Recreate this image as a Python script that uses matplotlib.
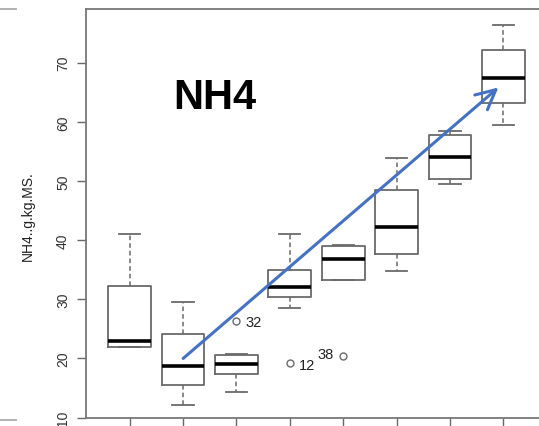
import matplotlib
matplotlib.use("Agg")
import matplotlib.pyplot as plt
from matplotlib.lines import Line2D

plt.rcParams['font.family'] = ['Liberation Sans', 'DejaVu Sans']

# five-number summaries per group (read as whisker low, q1, median, q3, whisker high)
groups = [1, 2, 3, 4, 5, 6, 7, 8]
whislo = [21.9, 12.2, 14.4, 28.6, 33.2, 34.8, 49.5, 59.5]
q1 = [22.0, 15.6, 17.3, 30.4, 33.2, 37.7, 50.3, 63.1]
med = [22.9, 18.8, 19.1, 32.1, 36.8, 42.3, 54.1, 67.4]
q3 = [32.2, 24.2, 20.6, 34.9, 39.0, 48.4, 57.7, 72.2]
whishi = [41.0, 29.5, 20.7, 41.0, 39.1, 53.9, 58.5, 76.4]

# outliers: group, value, label
out_group = [3, 4, 5]
out_value = [26.4, 19.2, 20.5]
out_label = ["32", "12", "38"]

# trend arrow (start, end) in data units
arrow_x = [2, 7.91]
arrow_y = [20.0, 65.8]

stats = []
for i, g in enumerate(groups):
    fl = [v for gg, v in zip(out_group, out_value) if gg == g]
    stats.append(dict(whislo=whislo[i], q1=q1[i], med=med[i], q3=q3[i],
                      whishi=whishi[i], fliers=fl))

fig = plt.figure(figsize=(5.39, 4.27), dpi=100)
ax = fig.add_axes([86 / 539, 8 / 427, 461 / 539, 409 / 427])

grey = '#6a6a6a'
ax.bxp(stats, positions=groups, widths=0.8, patch_artist=False,
       boxprops=dict(color=grey, lw=1.3),
       medianprops=dict(color='black', lw=2.6),
       whiskerprops=dict(color=grey, lw=1.1, ls=(0, (3, 2))),
       capprops=dict(color=grey, lw=1.3),
       capwidths=0.4,
       flierprops=dict(marker='o', markersize=5, markerfacecolor='none',
                       markeredgecolor=grey, markeredgewidth=1.0))

for g, v, lab in zip(out_group, out_value, out_label):
    if lab == "38":
        ax.text(g - 0.17, v + 0.3, lab, ha='right', va='center', fontsize=10.5,
                color='#222222')
    else:
        ax.text(g + 0.17, v - 0.3, lab, ha='left', va='center', fontsize=10.5,
                color='#222222')

ax.annotate('', xy=(arrow_x[1], arrow_y[1]), xytext=(arrow_x[0], arrow_y[0]),
            arrowprops=dict(arrowstyle='->,head_length=0.7,head_width=0.35',
                            color='#4472C4', lw=2.2, mutation_scale=20,
                            shrinkA=0, shrinkB=0))

ax.text(215 / 539, 1 - 98 / 427, 'NH4', transform=fig.transFigure,
        fontsize=30, fontweight='bold', ha='center', va='center')

ax.set_xlim(0.18, 8.82)
ax.set_ylim(9.94, 79.06)
ax.set_xticks(groups)
ax.set_xticklabels([])
ax.set_yticks([10, 20, 30, 40, 50, 60, 70])
ax.tick_params(axis='y', labelrotation=90, length=6.5, width=1, color=grey,
               labelsize=10, pad=5, labelcolor='#333333')
ax.tick_params(axis='x', length=6.5, width=1, color=grey)
for lab in ax.get_yticklabels():
    lab.set_va('center')
for s in ax.spines.values():
    s.set_color('#777777')
    s.set_linewidth(1.3)

fig.text(28 / 539, 1 - 216 / 427, 'NH4..g.kg.MS.', rotation=90,
         ha='center', va='center', fontsize=10, color='#222222')

# edges of the neighbouring panel frame
fig.add_artist(Line2D([0, 16 / 539], [1 - 10 / 427] * 2, color='#aaaaaa', lw=1.3))
fig.add_artist(Line2D([0, 16 / 539], [1 - 421 / 427] * 2, color='#aaaaaa', lw=1.3))

fig.savefig('out.png', dpi=100)
